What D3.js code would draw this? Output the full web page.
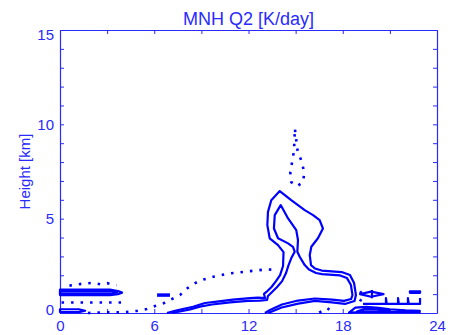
<!DOCTYPE html>
<html>
<head>
<meta charset="utf-8">
<script src="https://cdn.jsdelivr.net/npm/d3@7"></script>
<style>
  body { margin: 0; background: #fff; }
</style>
</head>
<body>
<svg id="chart" width="459" height="335"></svg>
<script>
// ---- data: [hour, km] ----
const xTicks = [0, 6, 12, 18, 24];
const yTicks = [0, 5, 10, 15];
const xMinor = d3.range(0, 25, 3);
const yMinor = d3.range(0, 16, 1);

// main contour pair (solid)
const outerContour = [[6.81,0],[7.32,0.11],[7.96,0.24],[8.47,0.33],[9.23,0.53],[9.99,0.60],[11.01,0.71],[12.10,0.79],[12.61,0.82],[13.05,0.79],[12.99,1.01],[13.16,1.13],[13.48,1.39],[13.75,1.69],[14.01,2.01],[14.20,2.49],[14.23,3.23],[13.88,3.60],[13.35,3.96],[13.20,4.66],[13.24,5.36],[13.45,5.98],[13.99,6.46],[14.72,5.98],[15.58,5.45],[16.11,5.19],[16.53,4.92],[16.74,4.48],[16.42,3.96],[16.00,3.51],[15.90,3.07],[15.98,2.54],[16.23,2.36],[16.66,2.25],[17.93,2.17],[18.46,2.01],[18.72,1.59],[18.84,0.95],[18.75,0.64],[18.14,0.48],[17.30,0.56],[16.23,0.64],[15.17,0.50],[14.11,0.29],[13.26,0]];
const innerContour = [[7.13,0],[7.64,0.08],[8.28,0.19],[8.91,0.34],[9.68,0.45],[10.82,0.56],[11.97,0.64],[12.73,0.66],[13.18,0.69],[13.24,0.90],[13.50,1.11],[13.82,1.38],[14.14,1.69],[14.39,2.12],[14.55,2.54],[14.72,2.90],[14.94,3.25],[14.83,3.51],[14.52,3.69],[13.88,3.96],[13.62,4.48],[13.67,5.19],[14.05,5.72],[14.52,5.01],[15.04,4.39],[15.15,3.87],[15.11,3.25],[15.26,2.98],[15.58,2.54],[15.85,2.30],[16.30,2.12],[16.68,2.06],[17.83,1.99],[18.27,1.85],[18.52,1.48],[18.62,0.95],[18.53,0.74],[18.08,0.64],[17.32,0.71],[16.23,0.77],[15.15,0.66],[14.13,0.45],[13.37,0.16],[13.05,0]];

// small solid closed loops
const leftLoopOuter = [[0,1.24],[3.18,1.24],[3.69,1.16],[3.95,1.08],[3.69,1.0],[3.18,0.95],[0,0.95]];
const leftLoopInner = [[0,1.16],[3.31,1.16],[3.63,1.09],[3.31,1.03],[0,1.03]];
const leftBottomLoop = [[0,0.2],[1.2,0.2],[1.6,0.12],[1.2,0.05],[0,0.05]];
const rightLens = [[19.1,1.0],[19.8,1.13],[20.6,1.0],[19.8,0.86]];
const rightDash = [[22.28,1.15],[22.92,1.15],[22.92,1.07],[22.28,1.07]];
const rightBottom = [[18.4,0.02],[18.8,0.28],[19.5,0.32],[20.3,0.27],[21.0,0.2],[22.0,0.14],[22.9,0.12],[22.9,0.04],[20.5,0.06],[19.0,0.04]];
const rightBottomInner = [[18.9,0.08],[19.4,0.22],[20.2,0.2],[21.0,0.13],[20.4,0.09],[19.5,0.08]];

// small solid open pieces
const plumeDash = [[6.18,0.95],[7.0,0.95]];
const rightTick = [[19.86,1.22],[19.86,0.78]];
const rightComb = [[19.29,0.48],[20.75,0.48],[20.75,0.79],[20.8,0.48],[21.52,0.48],[21.52,0.79],[21.57,0.48],[22.15,0.48],[22.15,0.79],[22.2,0.48],[22.92,0.48],[22.92,0.79]];

// dotted contours
const plumeDots = [[1.78,0],[2.97,0.04],[4.03,0.04],[4.88,0.11],[5.52,0.21],[6.05,0.37],[6.58,0.51],[7.00,0.69],[7.64,0.95],[7.96,1.22],[8.38,1.48],[8.91,1.72],[9.76,1.92],[10.83,2.10],[12.10,2.22],[13.16,2.31],[13.81,2.28]];
const leftDotsUpper = [[0.6,1.45],[1.4,1.55],[2.1,1.6],[2.6,1.52],[3.0,1.58],[3.6,1.47]];
const leftDotsLower = [[0.1,0.56],[3.95,0.56]];
const topDots = [[14.96,9.72],[15.02,9.32],[15.12,8.63],[15.35,8.10],[15.55,7.47],[15.48,6.94],[15.09,6.72],[14.72,6.94],[14.66,7.47],[14.80,8.10],[14.90,8.63],[14.93,9.32]];
const bumpDots = [[16.5,0.02],[16.8,0.15],[17.0,0.26],[17.2,0.15],[17.5,0.02]];
const rightSideDots = [[19.1,1.15],[19.3,0.95],[19.2,0.75],[19.0,0.5],[19.2,0.3]];

// ---- layout ----
const margin = { top: 30, bottom: 22, left: 60, right: 22 };
const W = 459, H = 335;
const width = W - margin.left - margin.right;
const height = H - margin.top - margin.bottom;
const axisColor = "#2a2aff";
const lineColor = "#0000ff";
const font = "'Liberation Sans', Arial, Helvetica, sans-serif";

const svg = d3.select("#chart");
const g = svg.append("g").attr("transform", `translate(${margin.left},${margin.top})`);

const xScale = d3.scaleLinear().domain([0, 24]).range([0, width]);
const yScale = d3.scaleLinear().domain([0, 15]).range([height, 0]);

const line = d3.line().x((d) => xScale(d[0])).y((d) => yScale(d[1]));
const loop = d3.line().x((d) => xScale(d[0])).y((d) => yScale(d[1])).curve(d3.curveLinearClosed);

// axes
function styleAxis(sel) {
  sel.selectAll("path").attr("stroke", axisColor).attr("stroke-width", 1.2);
  sel.selectAll("line").attr("stroke", axisColor).attr("stroke-width", 1);
  sel.selectAll("text").attr("fill", axisColor).attr("font-family", font).attr("font-size", 15);
}

g.append("g")
  .attr("transform", `translate(0,${height})`)
  .call(d3.axisBottom(xScale).tickValues(xMinor).tickSize(-4).tickSizeOuter(0).tickPadding(7)
    .tickFormat((d) => (xTicks.includes(d) ? d : "")))
  .call(styleAxis);

g.append("g")
  .call(d3.axisTop(xScale).tickValues(xMinor).tickSize(-4).tickSizeOuter(0).tickFormat(""))
  .call(styleAxis);

const yAxis = g.append("g")
  .call(d3.axisLeft(yScale).tickValues(yMinor).tickSize(-4).tickSizeOuter(0).tickPadding(6)
    .tickFormat((d) => (yTicks.includes(d) ? d : "")))
  .call(styleAxis);
// nudge end labels as in the reference
yAxis.selectAll(".tick text").attr("dy", (d) => (d === 15 ? "0.65em" : d === 0 ? "0.1em" : "0.32em"));

g.append("g")
  .attr("transform", `translate(${width},0)`)
  .call(d3.axisRight(yScale).tickValues(yMinor).tickSize(-4).tickSizeOuter(0).tickFormat(""))
  .call(styleAxis);

// title + y label
svg.append("text")
  .attr("x", margin.left + width / 2)
  .attr("y", 25)
  .attr("text-anchor", "middle")
  .attr("font-family", font)
  .attr("font-size", 18)
  .attr("fill", axisColor)
  .text("MNH Q2 [K/day]");

svg.append("text")
  .attr("transform", `translate(30,${margin.top + height / 2}) rotate(-90)`)
  .attr("text-anchor", "middle")
  .attr("font-family", font)
  .attr("font-size", 15)
  .attr("fill", axisColor)
  .text("Height [km]");

// contours
const marks = g.append("g").attr("fill", "none").attr("stroke", lineColor);

marks.selectAll(".solid")
  .data([outerContour, innerContour, plumeDash, rightTick, rightComb])
  .join("path")
  .attr("class", "solid")
  .attr("d", line)
  .attr("stroke-width", (d) => (d === plumeDash ? 3.5 : 2.2))
  .attr("stroke-linejoin", "round");

marks.selectAll(".loop")
  .data([leftLoopOuter, leftLoopInner, leftBottomLoop, rightLens, rightDash, rightBottom, rightBottomInner])
  .join("path")
  .attr("class", "loop")
  .attr("d", loop)
  .attr("stroke-width", 2.2)
  .attr("stroke-linejoin", "round");

marks.selectAll(".dots")
  .data([plumeDots, leftDotsUpper, leftDotsLower, bumpDots, rightSideDots])
  .join("path")
  .attr("class", "dots")
  .attr("d", line)
  .attr("stroke-width", 2.6)
  .attr("stroke-dasharray", "2.5,7");

marks.append("path")
  .datum(topDots)
  .attr("d", loop)
  .attr("stroke-width", 2.6)
  .attr("stroke-dasharray", "2.5,7");
</script>
</body>
</html>
